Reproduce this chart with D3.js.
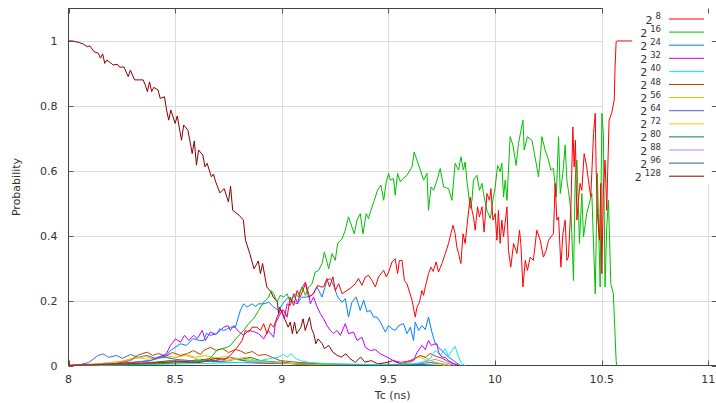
<!DOCTYPE html>
<html><head><meta charset="utf-8">
<script src="https://cdn.jsdelivr.net/npm/d3@7"></script>
<style>body{margin:0;background:#fff}svg{display:block}</style>
</head><body>
<svg id="c" width="716" height="403"></svg>
<script>
// ---------- data ----------
const exponents = ["8","16","24","32","40","48","56","64","72","80","88","96","128"];
const xTicks = [8, 8.5, 9, 9.5, 10, 10.5, 11];
const yTicks = [0, 0.2, 0.4, 0.6, 0.8, 1];

const s8 = [[8.000,0],[8.150,0.003],[8.291,0.006],[8.431,0.009],[8.525,0.012],[8.619,0.009],[8.689,0.022],[8.736,0.019],[8.759,0.031],[8.791,0.056],[8.814,0.077],[8.829,0.108],[8.845,0.103],[8.861,0.118],[8.884,0.118],[8.900,0.108],[8.915,0.129],[8.931,0.098],[8.947,0.129],[8.962,0.118],[8.978,0.149],[8.993,0.170],[9.009,0.170],[9.025,0.149],[9.040,0.211],[9.056,0.185],[9.072,0.231],[9.087,0.211],[9.111,0.252],[9.126,0.211],[9.149,0.221],[9.168,0.247],[9.184,0.242],[9.196,0.242],[9.212,0.268],[9.224,0.242],[9.240,0.273],[9.251,0.231],[9.267,0.252],[9.283,0.221],[9.306,0.231],[9.329,0.242],[9.345,0.252],[9.360,0.268],[9.376,0.247],[9.392,0.273],[9.407,0.278],[9.423,0.262],[9.439,0.242],[9.454,0.273],[9.478,0.293],[9.490,0.273],[9.501,0.288],[9.517,0.319],[9.532,0.329],[9.543,0.283],[9.552,0.324],[9.564,0.324],[9.575,0.262],[9.587,0.252],[9.611,0.201],[9.626,0.149],[9.634,0.180],[9.646,0.195],[9.657,0.231],[9.665,0.216],[9.673,0.242],[9.688,0.283],[9.700,0.303],[9.710,0.290],[9.724,0.319],[9.735,0.288],[9.751,0.314],[9.767,0.345],[9.782,0.376],[9.793,0.406],[9.803,0.432],[9.813,0.406],[9.821,0.365],[9.829,0.345],[9.840,0.314],[9.850,0.406],[9.860,0.376],[9.868,0.427],[9.884,0.519],[9.892,0.478],[9.899,0.458],[9.907,0.417],[9.918,0.489],[9.927,0.458],[9.939,0.489],[9.949,0.411],[9.962,0.530],[9.974,0.509],[9.981,0.545],[9.990,0.448],[10.001,0.468],[10.009,0.386],[10.016,0.478],[10.024,0.376],[10.032,0.448],[10.040,0.396],[10.056,0.489],[10.063,0.355],[10.074,0.303],[10.087,0.376],[10.103,0.345],[10.115,0.417],[10.121,0.376],[10.131,0.242],[10.142,0.324],[10.152,0.293],[10.165,0.334],[10.180,0.324],[10.196,0.417],[10.212,0.386],[10.227,0.334],[10.240,0.355],[10.251,0.386],[10.262,0.396],[10.274,0.406],[10.282,0.561],[10.290,0.448],[10.298,0.458],[10.309,0.303],[10.318,0.406],[10.329,0.448],[10.337,0.324],[10.344,0.334],[10.356,0.489],[10.365,0.735],[10.371,0.612],[10.377,0.694],[10.384,0.448],[10.391,0.509],[10.399,0.561],[10.407,0.540],[10.418,0.653],[10.430,0.612],[10.438,0.571],[10.449,0.519],[10.462,0.715],[10.470,0.777],[10.474,0.612],[10.480,0.468],[10.490,0.386],[10.496,0.561],[10.501,0.283],[10.508,0.540],[10.516,0.633],[10.524,0.478],[10.529,0.612],[10.535,0.756],[10.547,0.777],[10.559,0.818],[10.563,0.921],[10.568,0.998],[10.573,1.0],[10.643,1.0]];

const s16 = [[8.000,0],[8.150,0.003],[8.291,0.003],[8.431,0.006],[8.572,0.009],[8.619,0.015],[8.665,0.022],[8.697,0.048],[8.744,0.056],[8.759,0.062],[8.791,0.087],[8.821,0.108],[8.845,0.129],[8.868,0.144],[8.892,0.170],[8.915,0.195],[8.939,0.211],[8.950,0.231],[8.962,0.221],[8.978,0.195],[8.993,0.216],[9.009,0.211],[9.025,0.221],[9.040,0.195],[9.064,0.221],[9.079,0.211],[9.095,0.242],[9.111,0.216],[9.126,0.242],[9.142,0.252],[9.157,0.288],[9.173,0.293],[9.189,0.314],[9.200,0.350],[9.220,0.298],[9.236,0.345],[9.251,0.324],[9.262,0.376],[9.283,0.391],[9.298,0.417],[9.313,0.458],[9.329,0.427],[9.340,0.406],[9.353,0.448],[9.368,0.468],[9.381,0.406],[9.396,0.468],[9.407,0.453],[9.418,0.478],[9.434,0.509],[9.449,0.540],[9.465,0.556],[9.478,0.509],[9.490,0.566],[9.501,0.592],[9.509,0.571],[9.524,0.576],[9.532,0.525],[9.543,0.592],[9.556,0.566],[9.570,0.577],[9.587,0.586],[9.611,0.612],[9.621,0.658],[9.634,0.633],[9.650,0.602],[9.665,0.571],[9.681,0.592],[9.688,0.478],[9.700,0.550],[9.712,0.540],[9.728,0.571],[9.743,0.607],[9.759,0.550],[9.782,0.545],[9.798,0.509],[9.813,0.623],[9.829,0.602],[9.840,0.643],[9.852,0.602],[9.860,0.627],[9.868,0.571],[9.884,0.484],[9.892,0.509],[9.899,0.571],[9.915,0.586],[9.927,0.540],[9.939,0.561],[9.946,0.530],[9.962,0.478],[9.978,0.453],[9.990,0.509],[10.001,0.550],[10.012,0.617],[10.024,0.597],[10.032,0.623],[10.040,0.519],[10.048,0.571],[10.056,0.509],[10.071,0.705],[10.084,0.679],[10.099,0.617],[10.110,0.684],[10.131,0.756],[10.137,0.664],[10.152,0.705],[10.173,0.694],[10.193,0.623],[10.204,0.581],[10.220,0.705],[10.235,0.664],[10.251,0.633],[10.262,0.602],[10.274,0.607],[10.287,0.519],[10.298,0.705],[10.306,0.530],[10.318,0.592],[10.329,0.679],[10.337,0.571],[10.344,0.540],[10.356,0.478],[10.368,0.262],[10.376,0.571],[10.384,0.633],[10.396,0.376],[10.407,0.530],[10.415,0.396],[10.430,0.468],[10.454,0.530],[10.470,0.221],[10.480,0.592],[10.493,0.242],[10.501,0.777],[10.508,0.715],[10.516,0.242],[10.524,0.427],[10.532,0.509],[10.543,0.252],[10.555,0.221],[10.568,0.015],[10.571,0]];

const s24 = [[8.000,0],[8.103,0.003],[8.244,0.006],[8.384,0.015],[8.459,0.031],[8.478,0.046],[8.501,0.056],[8.525,0.067],[8.553,0.062],[8.584,0.083],[8.615,0.077],[8.634,0.077],[8.647,0.099],[8.665,0.093],[8.697,0.098],[8.709,0.113],[8.728,0.108],[8.740,0.111],[8.759,0.118],[8.783,0.118],[8.806,0.170],[8.821,0.190],[8.837,0.180],[8.861,0.190],[8.876,0.182],[8.892,0.190],[8.915,0.190],[8.939,0.195],[8.962,0.180],[8.985,0.170],[9.009,0.195],[9.032,0.211],[9.050,0.198],[9.072,0.190],[9.092,0.210],[9.119,0.211],[9.142,0.216],[9.165,0.242],[9.189,0.211],[9.212,0.262],[9.228,0.268],[9.246,0.242],[9.262,0.211],[9.283,0.195],[9.298,0.206],[9.313,0.149],[9.329,0.195],[9.349,0.211],[9.368,0.170],[9.384,0.201],[9.400,0.165],[9.415,0.170],[9.431,0.149],[9.447,0.149],[9.462,0.134],[9.486,0.103],[9.501,0.123],[9.517,0.113],[9.532,0.108],[9.548,0.123],[9.571,0.129],[9.587,0.098],[9.603,0.118],[9.618,0.077],[9.626,0.134],[9.642,0.108],[9.657,0.123],[9.673,0.111],[9.688,0.149],[9.704,0.103],[9.720,0.067],[9.735,0.056],[9.759,0.041],[9.782,0.026],[9.806,0.015],[9.837,0]];

const s32 = [[8.000,0],[8.150,0.003],[8.291,0.009],[8.384,0.015],[8.459,0.036],[8.478,0.062],[8.491,0.072],[8.501,0.082],[8.525,0.072],[8.544,0.093],[8.564,0.077],[8.587,0.093],[8.604,0.083],[8.627,0.108],[8.642,0.077],[8.665,0.103],[8.689,0.096],[8.712,0.108],[8.728,0.118],[8.748,0.123],[8.759,0.108],[8.775,0.123],[8.797,0.105],[8.821,0.093],[8.845,0.108],[8.867,0.105],[8.892,0.098],[8.915,0.082],[8.937,0.108],[8.962,0.087],[8.970,0.129],[8.985,0.149],[9.001,0.170],[9.012,0.144],[9.025,0.190],[9.040,0.185],[9.056,0.221],[9.075,0.190],[9.087,0.231],[9.111,0.257],[9.126,0.221],[9.134,0.190],[9.149,0.211],[9.165,0.182],[9.181,0.160],[9.196,0.144],[9.212,0.123],[9.228,0.108],[9.243,0.098],[9.259,0.108],[9.275,0.093],[9.298,0.129],[9.313,0.098],[9.337,0.103],[9.353,0.077],[9.376,0.087],[9.392,0.056],[9.415,0.046],[9.439,0.049],[9.462,0.036],[9.493,0.026],[9.524,0.015],[9.556,0.010],[9.584,0.012],[9.618,0.015],[9.634,0.040],[9.657,0.062],[9.673,0.049],[9.688,0.077],[9.701,0.062],[9.712,0.065],[9.728,0.067],[9.735,0.041],[9.751,0.026],[9.767,0.025],[9.782,0.015],[9.821,0]];

const s40 = [[8.000,0],[8.384,0.003],[8.619,0.006],[8.806,0.009],[8.900,0.015],[8.947,0.022],[8.984,0.025],[9.007,0.034],[9.026,0.026],[9.045,0.037],[9.064,0.022],[9.087,0.015],[9.134,0.009],[9.228,0.005],[9.462,0.003],[9.650,0.006],[9.696,0.022],[9.720,0.046],[9.743,0.031],[9.767,0.052],[9.781,0.028],[9.798,0.046],[9.813,0.059],[9.829,0.026],[9.845,0.005],[9.860,0]];

const s48 = [[8.000,0],[8.103,0],[8.197,0.003],[8.291,0.015],[8.323,0.031],[8.347,0.037],[8.370,0.041],[8.394,0.031],[8.422,0.037],[8.455,0.028],[8.487,0.040],[8.525,0.031],[8.558,0.037],[8.586,0.046],[8.619,0.034],[8.633,0.046],[8.665,0.056],[8.694,0.046],[8.722,0.052],[8.750,0.040],[8.783,0.049],[8.806,0.045],[8.829,0.037],[8.862,0.043],[8.890,0.031],[8.923,0.034],[8.956,0.025],[8.993,0.015],[9.040,0.012],[9.087,0.009],[9.181,0.006],[9.321,0.003],[9.556,0.003],[9.626,0.022],[9.650,0.031],[9.673,0.025],[9.696,0.037],[9.724,0.028],[9.753,0.022],[9.790,0.009],[9.837,0]];

const s56 = [[8.000,0],[8.103,0.003],[8.197,0.009],[8.267,0.015],[8.314,0.022],[8.361,0.028],[8.408,0.019],[8.455,0.031],[8.501,0.025],[8.548,0.034],[8.595,0.025],[8.642,0.031],[8.689,0.022],[8.736,0.028],[8.783,0.019],[8.829,0.025],[8.876,0.015],[8.923,0.012],[8.970,0.009],[9.040,0.006],[9.181,0.003],[9.556,0.003],[9.603,0.009],[9.626,0.022],[9.650,0.031],[9.673,0.025],[9.696,0.015],[9.743,0.006],[9.790,0]];

const s64 = [[8.000,0],[8.056,0.003],[8.094,0.009],[8.139,0.031],[8.163,0.036],[8.187,0.025],[8.225,0.031],[8.253,0.022],[8.291,0.034],[8.328,0.025],[8.366,0.031],[8.408,0.022],[8.455,0.025],[8.501,0.019],[8.572,0.015],[8.665,0.012],[8.806,0.009],[8.947,0.006],[9.087,0.006],[9.181,0.003],[9.368,0.003],[9.603,0.003],[9.696,0.009],[9.743,0.006],[9.790,0]];

const s72 = [[8.000,0],[8.150,0.006],[8.244,0.012],[8.314,0.025],[8.375,0.019],[8.431,0.028],[8.487,0.022],[8.548,0.031],[8.595,0.022],[8.642,0.012],[8.689,0.025],[8.736,0.015],[8.806,0.022],[8.876,0.012],[8.947,0.009],[9.040,0.006],[9.228,0.003],[9.556,0.003],[9.612,0.012],[9.640,0.028],[9.668,0.019],[9.696,0.009],[9.743,0.003],[9.767,0]];

const s80 = [[8.000,0],[8.244,0.003],[8.384,0.009],[8.478,0.015],[8.548,0.012],[8.619,0.019],[8.689,0.015],[8.759,0.025],[8.806,0.019],[8.853,0.025],[8.900,0.015],[8.947,0.012],[9.017,0.009],[9.087,0.003],[9.275,0.002],[9.650,0.003],[9.743,0]];

const s88 = [[8.000,0],[8.291,0.003],[8.431,0.009],[8.525,0.015],[8.595,0.012],[8.665,0.022],[8.736,0.015],[8.806,0.022],[8.876,0.012],[8.947,0.009],[9.040,0.006],[9.228,0.003],[9.603,0.003],[9.673,0.012],[9.720,0.019],[9.767,0.009],[9.813,0]];

const s96 = [[8.000,0],[8.244,0.003],[8.384,0.006],[8.501,0.012],[8.572,0.009],[8.642,0.015],[8.712,0.012],[8.783,0.019],[8.853,0.012],[8.923,0.009],[9.040,0.006],[9.228,0.003],[9.556,0.002],[9.743,0]];

const s128 = [[8.00,1.00],[8.02,1.00],[8.05,0.995],[8.07,0.99],[8.09,0.982],[8.10,0.985],[8.12,0.967],[8.14,0.962],[8.15,0.947],[8.16,0.96],[8.17,0.931],[8.18,0.941],[8.21,0.926],[8.23,0.928],[8.24,0.919],[8.26,0.92],[8.28,0.89],[8.29,0.91],[8.31,0.88],[8.35,0.88],[8.36,0.864],[8.37,0.844],[8.38,0.874],[8.39,0.844],[8.40,0.857],[8.42,0.849],[8.43,0.823],[8.45,0.828],[8.46,0.787],[8.47,0.756],[8.48,0.787],[8.50,0.746],[8.51,0.769],[8.53,0.694],[8.54,0.741],[8.56,0.725],[8.58,0.653],[8.59,0.692],[8.60,0.617],[8.61,0.664],[8.63,0.648],[8.64,0.612],[8.65,0.623],[8.67,0.581],[8.68,0.59],[8.69,0.566],[8.71,0.532],[8.73,0.545],[8.75,0.504],[8.76,0.552],[8.77,0.478],[8.80,0.463],[8.82,0.448],[8.83,0.386],[8.85,0.345],[8.87,0.298],[8.89,0.322],[8.90,0.283],[8.91,0.314],[8.93,0.242],[8.95,0.226],[8.96,0.211],[8.98,0.195],[8.985,0.16],[8.99,0.18],[9.01,0.149],[9.03,0.118],[9.04,0.134],[9.05,0.098],[9.06,0.134],[9.07,0.098],[9.09,0.118],[9.10,0.144],[9.11,0.108],[9.13,0.149],[9.14,0.113],[9.15,0.098],[9.16,0.067],[9.17,0.082],[9.19,0.067],[9.20,0.052],[9.22,0.062],[9.24,0.041],[9.26,0.031],[9.28,0.026],[9.30,0.036],[9.32,0.021],[9.345,0.01],[9.37,0.026],[9.39,0.01],[9.42,0.015],[9.45,0.005],[9.50,0.01],[9.52,0.015],[9.56,0.005],[9.60,0]];

const seriesValues = [s8, s16, s24, s32, s40, s48, s56, s64, s72, s80, s88, s96, s128];

// ---------- styles ----------
const colors = ["#ff0000","#00c000","#0080ff","#c000ff","#00eeee","#c04000","#c8c800","#4169e1","#ffc020","#008040","#c080ff","#306080","#8b0000"];
const FONT = "'DejaVu Sans', sans-serif";

const svg = d3.select("#c");
const L = 68.5, R = 716.8, T = 8.5, B = 365.5;
const x = d3.scaleLinear().domain([8, 11.04]).range([L, R]);
const y = d3.scaleLinear().domain([0, 1.1]).range([B, T]);

// grid
const grid = svg.append("g").attr("stroke", "#dcdcdc").attr("stroke-width", 1);
xTicks.filter(t => t > 8).forEach(t => grid.append("line")
  .attr("x1", Math.round(x(t)) + 0.5).attr("x2", Math.round(x(t)) + 0.5).attr("y1", T).attr("y2", B));
yTicks.filter(t => t > 0).forEach(t => grid.append("line")
  .attr("x1", L).attr("x2", R).attr("y1", Math.round(y(t)) + 0.5).attr("y2", Math.round(y(t)) + 0.5));

// frame
svg.append("rect").attr("x", L).attr("y", T).attr("width", R - L).attr("height", B - T)
  .attr("fill", "none").attr("stroke", "#444").attr("stroke-width", 1);

// opaque key box
const keyX = 603, keyBottom = 184;
svg.append("rect").attr("x", keyX).attr("y", 0).attr("width", 716 - keyX).attr("height", keyBottom).attr("fill", "#fff");

// data lines
const line = d3.line().x(d => x(d[0])).y(d => y(d[1]));
const order = [12,11,10,9,8,7,6,5,4,3,2,1,0];
order.forEach(i => {
  svg.append("path").datum(seriesValues[i]).attr("d", line)
    .attr("fill", "none").attr("stroke", colors[i]).attr("stroke-width", 1)
    .attr("stroke-linejoin", "round");
});

// ticks (inward, mirrored)
const tk = svg.append("g").attr("stroke", "#555").attr("stroke-width", 1);
yTicks.forEach(t => {
  const yy = Math.round(y(t)) + 0.5;
  tk.append("line").attr("x1", L).attr("x2", L + 5).attr("y1", yy).attr("y2", yy);
  tk.append("line").attr("x1", R - 5).attr("x2", R).attr("y1", yy).attr("y2", yy);
});
xTicks.forEach(t => {
  const xx = Math.round(x(t)) + 0.5;
  tk.append("line").attr("x1", xx).attr("x2", xx).attr("y1", B).attr("y2", B - 5);
  tk.append("line").attr("x1", xx).attr("x2", xx).attr("y1", T).attr("y2", T + 5);
});

// tick labels
const txt = svg.append("g").attr("font-family", FONT).attr("font-size", 11).attr("fill", "#333");
yTicks.forEach(t => txt.append("text").attr("x", 57.5).attr("y", y(t) + 4)
  .attr("text-anchor", "end").text(d3.format("~g")(t)));
xTicks.forEach(t => txt.append("text").attr("x", x(t)).attr("y", 383)
  .attr("text-anchor", "middle").text(d3.format("~g")(t)));

// axis titles
txt.append("text").attr("x", (L + R) / 2).attr("y", 399).attr("text-anchor", "middle").text("Tc (ns)");
txt.append("text").attr("transform", `translate(20,${(T + B) / 2}) rotate(-90)`)
  .attr("text-anchor", "middle").text("Probability");

// legend
exponents.forEach((e, i) => {
  const ry = 19 + i * 13.1;
  svg.append("line").attr("x1", 669).attr("x2", 704).attr("y1", ry).attr("y2", ry)
    .attr("stroke", colors[i]).attr("stroke-width", 1);
  const t = svg.append("text").attr("x", 661).attr("y", ry + 4.5).attr("text-anchor", "end")
    .attr("font-family", FONT).attr("font-size", 11).attr("fill", "#333");
  t.append("tspan").text("2");
  t.append("tspan").attr("dx", 3).attr("dy", -4.5).attr("font-size", 8.5).text(e);
});
</script>
</body></html>
